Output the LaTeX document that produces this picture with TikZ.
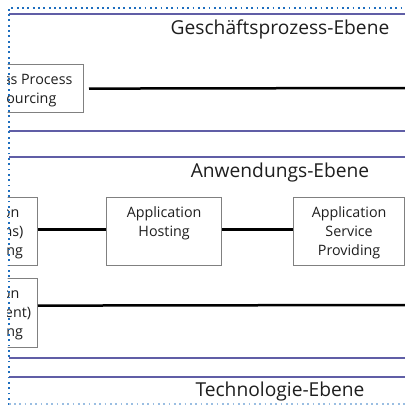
\documentclass[tikz,border=0pt]{standalone}
\usepackage{fontspec}
\setmainfont{Open Sans}
\definecolor{dotblue}{RGB}{30,110,190}
\definecolor{layer}{RGB}{96,94,166}
\definecolor{txt}{RGB}{30,30,30}
\definecolor{boxgray}{RGB}{128,128,128}
\newcommand\boxfont{\fontsize{14.3}{19}\selectfont}
\newcommand\titlefont{\fontsize{19.2}{22}\selectfont}
\newlength\wapp \newlength\wbp \newlength\wboxa \newlength\wboxbp
\newcommand\boxtext[3]{\parbox[c][#1][t]{#2}{\centering\boxfont\rule{0pt}{19.5pt}#3}}
\begin{document}
\settowidth{\wapp}{\boxfont Application}%
\settowidth{\wbp}{\boxfont Business Process}%
\setlength{\wboxa}{\dimexpr\wapp+36pt\relax}%
\setlength{\wboxbp}{\dimexpr\wbp+22pt\relax}%
\begin{tikzpicture}[x=1pt,y=-1pt,
  box/.style={draw=boxgray,line width=1.2pt,fill=white,inner sep=0pt,text=txt},
  conn/.style={line width=2.5pt,black},
  layerline/.style={line width=2pt,layer},
  border/.style={line width=1.8pt,dotblue,dash pattern=on 1.8pt off 3.53pt},
  title/.style={font=\titlefont,text=txt,inner sep=0pt,anchor=base}]
\useasboundingbox (0,0) rectangle (405,405);
\begin{scope}
\clip (7.5,0) rectangle (405,405);
% layer separators
\draw[layerline] (9,13.7) -- (410,13.7);
\draw[layerline] (9,131) -- (410,131);
\draw[layerline] (9,156.7) -- (410,156.7);
\draw[layerline] (9,358) -- (410,358);
\draw[layerline] (9,377) -- (410,377);
% titles
\node[title] (t1) at (280,34) {Geschäftsprozess-Ebene};
\node[title] (t2) at (280,177) {Anwendungs-Ebene};
\node[title] (t3) at (280,396) {Technologie-Ebene};
% boxes
\node[box,anchor=north east] (bpo) at (84,64) {\boxtext{48pt}{\wboxbp}{Business Process\\Outsourcing}};
\node[box,anchor=north east] (ba) at (38,197) {\boxtext{68pt}{\wboxa}{Application\\(Operations)\\Outsourcing}};
\node[box,anchor=north west] (ah) at (106,197) {\boxtext{68pt}{115pt}{Application\\Hosting}};
\node[box,anchor=north west] (asp) at (293,197) {\boxtext{68pt}{111pt}{Application\\Service\\Providing}};
\node[box,anchor=north east] (bc) at (38,278) {\boxtext{69pt}{\wboxa}{Application\\(Development)\\Outsourcing}};
\coordinate (e1) at (410,88);
\coordinate (e2) at (410,305);
% connectors
\draw[conn,shorten <=5pt] (bpo.east) -- (e1);
\draw[conn] ([yshift=2pt]ba.east) -- ([yshift=2pt]ah.west);
\draw[conn] ([yshift=2pt]ah.east) -- ([yshift=2pt]asp.west);
\draw[conn] ([yshift=7.5pt]bc.east) -- (e2);
\end{scope}
% dotted frame
\draw[border] (8.7,405) -- (8.7,8) -- (405,8);
\draw[border,dotblue!45] (8.7,404) -- (405,404);
\end{tikzpicture}
\end{document}
